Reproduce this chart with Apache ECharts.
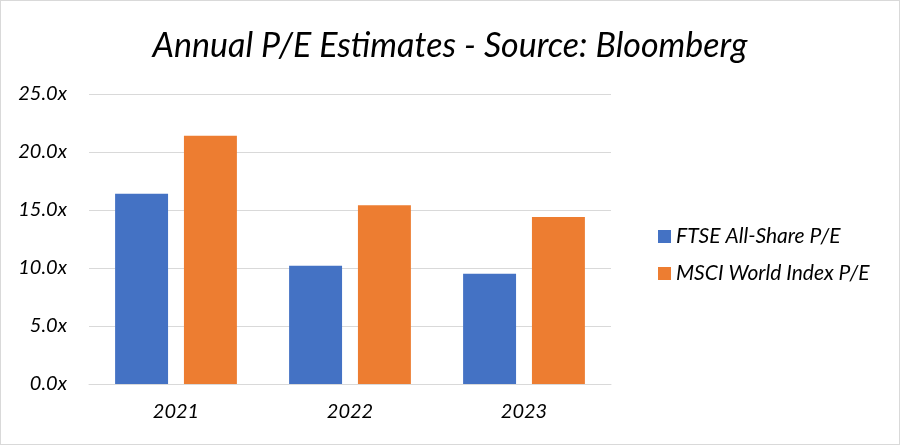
<!DOCTYPE html>
<html>
<head>
<meta charset="utf-8">
<script src="https://cdn.jsdelivr.net/npm/echarts@6/dist/echarts.min.js"></script>
<style>
html,body{margin:0;padding:0;background:#fff;}
#c{width:900px;height:445px;box-sizing:border-box;border:1px solid #d9d9d9;}
</style>
</head>
<body>
<div id="c"></div>
<script>
const categories = ['2021', '2022', '2023'];
const ftseValues = [16.4, 10.2, 9.5];
const msciValues = [21.4, 15.4, 14.4];
const seriesNames = ['FTSE All-Share P/E', 'MSCI World Index P/E'];

const FONT = 'Lato';
const chart = echarts.init(document.getElementById('c'), null, {renderer: 'canvas'});
chart.setOption({
  backgroundColor: '#fff',
  animation: false,
  title: {
    text: 'Annual P/E Estimates - Source: Bloomberg',
    left: 'center',
    top: 23,
    textStyle: {fontFamily: FONT, fontStyle: 'italic', fontWeight: 'normal', fontSize: 34, color: '#000'}
  },
  legend: {
    orient: 'vertical',
    left: 652,
    top: 220,
    itemWidth: 13,
    itemHeight: 13,
    itemGap: 16,
    icon: 'rect',
    textStyle: {fontFamily: FONT, fontStyle: 'italic', fontSize: 21, color: '#000'},
    data: seriesNames
  },
  grid: {left: 88, right: 288, top: 93, bottom: 60, containLabel: false},
  xAxis: {
    type: 'category',
    data: categories,
    axisLine: {lineStyle: {color: '#d9d9d9'}},
    axisTick: {show: false},
    axisLabel: {fontFamily: FONT, fontStyle: 'italic', fontSize: 20, color: '#000', margin: 18}
  },
  yAxis: {
    type: 'value',
    min: 0,
    max: 25,
    interval: 5,
    axisLine: {show: false},
    axisTick: {show: false},
    splitLine: {lineStyle: {color: '#d9d9d9', width: 1}},
    axisLabel: {
      fontFamily: FONT, fontStyle: 'italic', fontSize: 20, color: '#000', margin: 22,
      formatter: v => v.toFixed(1) + 'x'
    }
  },
  series: [
    {name: seriesNames[0], type: 'bar', data: ftseValues, itemStyle: {color: '#4472C4'}, barGap: '30%', barCategoryGap: '30%'},
    {name: seriesNames[1], type: 'bar', data: msciValues, itemStyle: {color: '#ED7D31'}, barGap: '30%', barCategoryGap: '30%'}
  ]
});
</script>
</body>
</html>
